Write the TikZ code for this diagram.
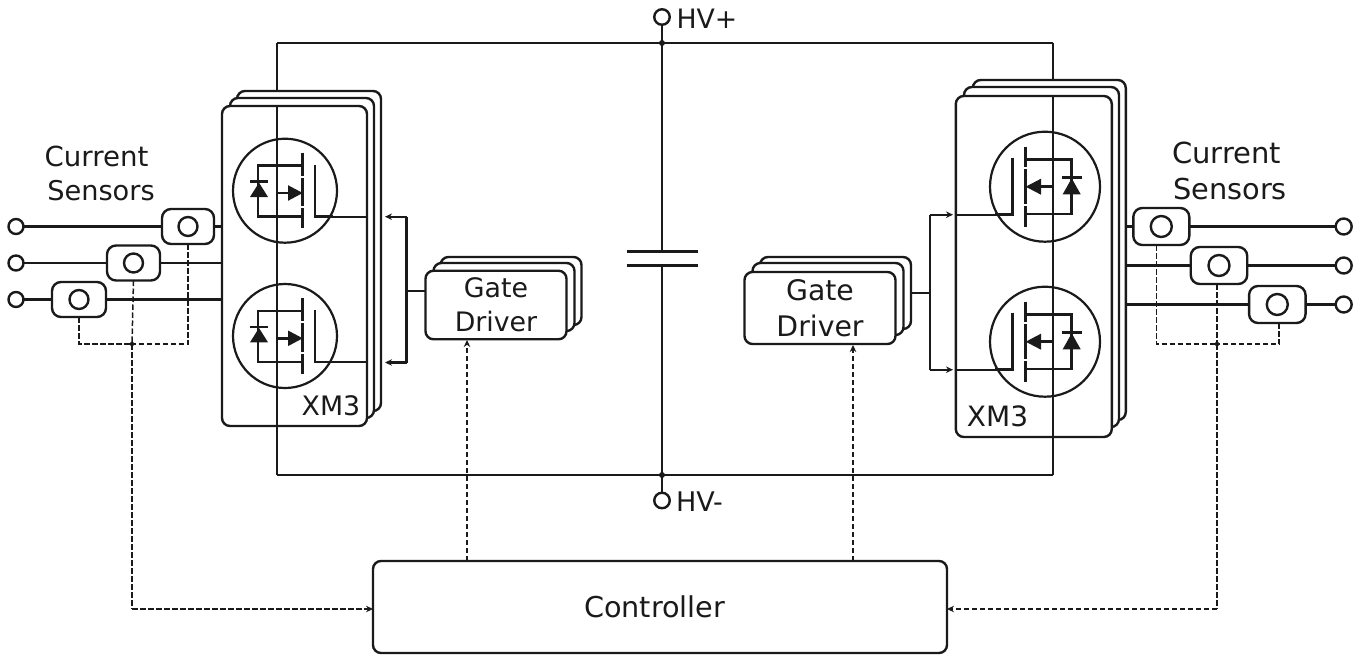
\documentclass[tikz,border=0pt]{standalone}
\usepackage{fontspec}
\setmainfont{DejaVu Sans}
\usetikzlibrary{arrows.meta}
\definecolor{ink}{HTML}{1A1A1A}
\tikzset{
  wire/.style={draw=ink,line width=2.8pt},
  thinwire/.style={draw=ink,line width=2.2pt},
  sig/.style={draw=ink,line width=1.5pt,dash pattern=on 5.5pt off 2.5pt},
  tip/.style={-{Stealth[length=7pt,width=6.5pt]}},
  box/.style={draw=ink,fill=white,line width=2.4pt,rounded corners=8pt,inner sep=0pt,outer sep=0pt},
  sensor/.style={box,rounded corners=9pt},
  disc/.style={circle,draw=ink,fill=white,line width=2.4pt,inner sep=0pt,outer sep=0pt,minimum size=#1},
  dot/.style={circle,fill=ink,inner sep=0pt,minimum size=6pt},
  lab/.style={anchor=base,text=ink,inner sep=0pt,font=\fontsize{#1}{#1}\selectfont},
  pics/mosL/.style={code={
    \draw[thinwire] (0,0) circle (52);
    \draw[wire] (-8,-25) -- (17.7,-25) (-8,-25) -- (-27,-25) -- (-27,26) -- (17.7,26);
    \draw[wire] (17.7,-38) -- (17.7,-15) (17.7,-13) -- (17.7,15.5) (17.7,17.5) -- (17.7,37.5);
    \draw[wire] (30,-25.7) -- (30,26) -- (48,26);
    \draw[wire] (-35,-9) -- (-17,-9);
    \fill[ink] (-26,-8) -- (-35,6.3) -- (-17,6.3) -- cycle;
    \draw[wire] (-8,2.3) -- (5,2.3);
    \fill[ink] (17.7,2.3) -- (3,-5.5) -- (3,10.1) -- cycle;
  }},
  pics/mosR/.style={code={
    \draw[thinwire] (0,0) circle (55);
    \draw[wire] (8,-27.4) -- (-19.3,-27.4) (8,-27.4) -- (26.7,-27.4) -- (26.7,27.3) -- (-19.3,27.3);
    \draw[wire] (-19.3,-40) -- (-19.3,-19.5) (-19.3,-17.5) -- (-19.3,17.5) (-19.3,19.5) -- (-19.3,40);
    \draw[wire] (-32.7,-29) -- (-32.7,28) -- (-50,28);
    \draw[wire] (17.3,-9.4) -- (36.7,-9.4);
    \fill[ink] (26.7,-8.4) -- (17.7,7.6) -- (35.7,7.6) -- cycle;
    \draw[wire] (8,0) -- (-6,0);
    \fill[ink] (-19.3,0) -- (-4,-8) -- (-4,8) -- cycle;
  }}
}
\begin{document}
\begin{tikzpicture}[x=1pt,y=-1pt]
\useasboundingbox (0,0) rectangle (1364,656);
% named junctions
\coordinate (jt) at (662,43);
\coordinate (jb) at (662,475);
\coordinate (tl) at (277,43);
\coordinate (tr) at (1053,43);
\coordinate (bl) at (277,475);
\coordinate (br) at (1053,475);
% rails (behind the modules)
\draw[wire] (tl) -- (tr);
\draw[wire] (bl) -- (br);
\draw[wire] (tl) -- (bl);
\draw[wire] (tr) -- (br);
% left module stack
\node[box,minimum width=144pt,minimum height=320pt] (m1c) at (309,251) {};
\node[box,minimum width=144pt,minimum height=320pt] (m1b) at (302,258) {};
\node[box,minimum width=145pt,minimum height=320pt] (m1)  at (294.5,266) {};
% right module stack
\node[box,minimum width=153pt,minimum height=340pt] (m2c) at (1049.3,250) {};
\node[box,minimum width=155pt,minimum height=340pt] (m2b) at (1041.5,257) {};
\node[box,minimum width=156pt,minimum height=341pt] (m2)  at (1033.8,266.5) {};
% rail pieces inside / below front modules
\draw[wire] (m1.north -| tl) -- (m1.south -| tl);
\draw[wire] (m2.north -| tr) -- (m2.south -| tr);
\draw[wire] (m1.south -| tl) -- (bl);
\draw[wire] (m2.south -| tr) -- (br);
% MOSFETs
\path (285,190.7) pic {mosL};
\path (285,336) pic {mosL};
\path (1045,186.7) pic {mosR};
\path (1045,341.7) pic {mosR};
\draw[thinwire] (m1.east |- 0,216.7) -- (333,216.7);
\draw[thinwire] (m1.east |- 0,362) -- (333,362);
\draw[thinwire] (m2.west |- 0,214.7) -- (995,214.7);
\draw[thinwire] (m2.west |- 0,369.7) -- (995,369.7);
% Gate drivers
\node[box,minimum width=141pt,minimum height=68pt] (g1c) at (511,291) {};
\node[box,minimum width=141pt,minimum height=68pt] (g1b) at (504,297) {};
\node[box,minimum width=141pt,minimum height=68.5pt,align=center,text=ink,font=\fontsize{26.8}{34}\selectfont] (g1) at (496,305) {Gate\\Driver};
\node[box,minimum width=151pt,minimum height=72pt] (g2c) at (835.5,293) {};
\node[box,minimum width=151pt,minimum height=72pt] (g2b) at (828,299) {};
\node[box,minimum width=151pt,minimum height=72pt,align=center,text=ink,font=\fontsize{28.3}{36}\selectfont] (g2) at (820,308) {Gate\\Driver};
% gate brackets
\coordinate (b1t) at (406.5,216.7);
\coordinate (b1b) at (406.5,362.5);
\coordinate (b1m) at (406.5,290.7);
\coordinate (b1at) at (385,216.7);
\coordinate (b1ab) at (385,362.5);
\draw[thinwire,tip] (b1t) -- (b1at);
\draw[thinwire,tip] (b1b) -- (b1ab);
\draw[wire] (b1t) -- (b1b);
\draw[thinwire] (b1m) -- (b1m -| g1.west);
\coordinate (b2t) at (930,214.7);
\coordinate (b2b) at (930,369.7);
\coordinate (b2m) at (930,292.7);
\coordinate (b2at) at (953,214.7);
\coordinate (b2ab) at (953,369.7);
\draw[thinwire,tip] (b2t) -- (b2at);
\draw[thinwire,tip] (b2b) -- (b2ab);
\draw[wire] (b2t) -- (b2b);
\draw[thinwire] (b2m) -- (b2m -| g2c.east);
% centre bus and capacitor
\node[disc=15.5pt] (hvp) at (662,17) {};
\node[disc=15.5pt] (hvm) at (662,500.5) {};
\coordinate (c1) at (662,251.7);
\coordinate (c2) at (662,265.7);
\draw[wire] (hvp) -- (c1);
\draw[wire] (c2) -- (hvm);
\draw[wire] (626.5,251.7) -- (698,251.7);
\draw[wire] (626.5,265.7) -- (698,265.7);
\node[dot] at (jt) {};
\node[dot] at (jb) {};
\node[lab=26.7] at (707,28) {HV+};
\node[lab=27] at (699.5,511) {HV-};
% controller
\node[box,minimum width=574pt,minimum height=92pt,text=ink,font=\fontsize{28.7}{28.7}\selectfont] (ctl) at (660,607) {Controller\kern10.6pt};
% left sensors
\node[sensor,minimum width=52pt,minimum height=35pt] (s1) at (188,226.5) {};
\node[sensor,minimum width=53pt,minimum height=35pt] (s2) at (133.5,263) {};
\node[sensor,minimum width=54pt,minimum height=35pt] (s3) at (79,299.5) {};
\node[disc=19pt] (s1i) at (s1) {};
\node[disc=19pt] (s2i) at (s2) {};
\node[disc=19pt] (s3i) at (s3) {};
\node[disc=15pt] (t1) at (16,226.5) {};
\node[disc=15pt] (t2) at (16,263) {};
\node[disc=15pt] (t3) at (16,299.5) {};
\draw[wire] (t1) -- (s1);
\draw[wire] (t2) -- (s2);
\draw[wire] (t3) -- (s3);
\draw[wire] (s1) -- (s1 -| m1.west);
\draw[wire] (s2) -- (s2 -| m1.west);
\draw[wire] (s3) -- (s3 -| m1.west);
\coordinate (d1) at (132,344);
\draw[sig] (s3.south) |- (d1);
\draw[sig] (s1.south) |- (d1);
\coordinate (c1l) at (132,609);
\draw[sig] (s2.south) -- (d1);
\draw[sig] (d1) -- (c1l);
\draw[sig,tip] (c1l) -- (c1l -| ctl.west);
\node[dot,minimum size=4.5pt] at (d1) {};
\node[lab=27.6] at (96.5,166.7) {Current};
\node[lab=27.2] at (101,200) {Sensors};
% right sensors
\node[sensor,minimum width=56pt,minimum height=37pt] (r1) at (1161.3,226.5) {};
\node[sensor,minimum width=56.5pt,minimum height=37pt] (r2) at (1219,265.5) {};
\node[sensor,minimum width=56.5pt,minimum height=37pt] (r3) at (1277.3,304.5) {};
\node[disc=21pt] (r1i) at (r1) {};
\node[disc=21pt] (r2i) at (r2) {};
\node[disc=21pt] (r3i) at (r3) {};
\node[disc=16pt] (u1) at (1343.7,226.5) {};
\node[disc=16pt] (u2) at (1343.7,265.5) {};
\node[disc=16pt] (u3) at (1343.7,304.5) {};
\draw[wire] (u1) -- (r1);
\draw[wire] (u2) -- (r2);
\draw[wire] (u3) -- (r3);
\draw[wire] (r1) -- (r1 -| m2c.east);
\draw[wire] (r2) -- (r2 -| m2c.east);
\draw[wire] (r3) -- (r3 -| m2c.east);
\coordinate (d2) at (1217,344);
\coordinate (d2a) at (1156.7,245);
\coordinate (d2b) at (1279,323);
\coordinate (d2c) at (1217,284);
\draw[sig] (d2a) |- (d2);
\draw[sig] (d2b) |- (d2);
\draw[sig] (d2c) -- (d2);
\coordinate (c2r) at (1217,609);
\draw[sig] (d2) -- (c2r);
\draw[sig,tip] (c2r) -- (c2r -| ctl.east);
\node[dot,minimum size=4.5pt] at (d2) {};
\node[lab=29] at (1226.5,163) {Current};
\node[lab=28.8] at (1230,199) {Sensors};
% XM3 labels
\node[lab=26.8] at (331,415) {XM3};
\node[lab=28] at (997.5,426) {XM3};
% controller to drivers
\coordinate (g1a) at (467,340);
\coordinate (g2a) at (853,345);
\draw[sig,tip] (g1a |- ctl.north) -- (g1a);
\draw[sig,tip] (g2a |- ctl.north) -- (g2a);
\end{tikzpicture}
\end{document}
